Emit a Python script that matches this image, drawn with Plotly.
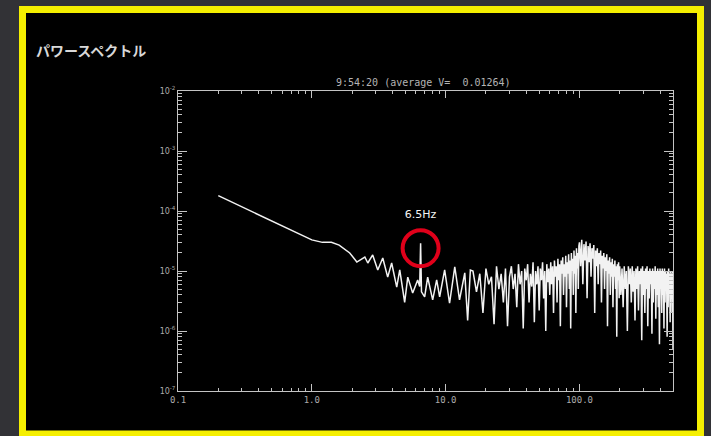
import plotly.graph_objects as go

# ---------------- data ----------------
freq_low = [0.2, 0.4, 0.6, 0.8, 1.0, 1.2, 1.4, 1.6]
pow_low = [1.8e-4, 8.6e-5, 5.7e-5, 4.2e-5, 3.3e-5, 3.0e-5, 3.0e-5, 2.7e-5]

freq_mid = [1.92, 2.17, 2.49, 2.62, 2.85, 3.11, 3.39, 3.69, 3.95, 4.31,
            4.54, 4.94, 5.21, 5.67, 6.18, 6.4, 6.5, 6.6, 6.97, 7.34,
            8.0, 8.57, 9.02, 9.83, 10.7, 11.7, 12.7, 13.9, 14.6, 15.3]
pow_mid_e6 = [20, 14.1, 17.1, 13.6, 18.5, 10.4, 16.5, 7.9, 13.6, 5.4,
              10.4, 3.0, 7.9, 4.3, 7.1, 5.5, 29, 4.5, 3.7, 7.9,
              3.3, 7.1, 3.7, 10.4, 2.9, 11.7, 3.3, 9.3, 1.5, 10.4]

freq_a = [16, 17, 18, 19, 20, 21, 22, 23, 24, 25, 26, 27, 28, 29, 30,
          31, 32, 33, 34, 35, 36, 37, 38, 39, 40, 41, 42, 43, 44, 45,
          46, 47, 48, 49, 50, 51, 52, 53, 54, 55, 56, 57, 58, 59, 60,
          61, 62, 63, 64, 65, 66, 67, 68, 69, 70, 71, 72, 73, 74, 75,
          76, 77, 78, 79, 80, 81, 82, 83, 84, 85, 86, 87, 88, 89, 90,
          91, 92, 93, 94, 95, 96, 97, 98, 99]
pow_a_e6 = [10, 4.5, 9, 2.0, 11, 6, 8, 1.3, 12, 5, 9, 3, 11, 1.2, 8,
            12, 5, 9, 2.5, 13, 6, 10, 1.1, 11, 7, 13, 3, 9, 5.5, 14,
            1.4, 10, 6, 12, 2.2, 11, 7, 14, 3.5, 10, 1.0, 13, 6.5, 11, 4,
            14, 6, 12, 2.0, 15, 8, 12, 3, 16, 7, 13, 1.2, 15, 9, 17,
            4, 13, 8, 18, 2.5, 14, 9, 19, 5, 15, 1.1, 20, 10, 16, 4,
            22, 9, 18, 2, 24, 11, 20, 5, 26]

freq_b = [100, 102, 104, 106, 108, 110, 112, 114, 116, 118,
          120, 122, 124, 126, 128, 130, 132, 134, 136, 138,
          140, 142, 144, 146, 148, 150, 152, 154, 156, 158,
          160, 162, 164, 166, 168, 170, 172, 174, 176, 178,
          180, 182, 184, 186, 188, 190, 192, 194, 196, 198]
pow_b_e6 = [30, 12, 33, 6, 28, 15, 31, 3.5, 26, 14,
            29, 8, 24, 16, 27, 2.0, 22, 12, 24, 6,
            20, 13, 22, 3, 18, 11, 20, 5, 17, 10,
            19, 1.2, 15, 9, 17, 4, 14, 8, 16, 2.5,
            13, 8, 15, 5, 12, 0.8, 13, 7, 14, 3.5]

freq_c = [200, 204, 208, 212, 216, 220, 224, 228, 232, 236,
          240, 244, 248, 252, 256, 260, 264, 268, 272, 276,
          280, 284, 288, 292, 296, 300, 304, 308, 312, 316,
          320, 324, 328, 332, 336, 340, 344, 348, 352, 356,
          360, 364, 368, 372, 376, 380, 384, 388, 392, 396,
          400, 404, 408, 412, 416, 420, 424, 428, 432, 436,
          440, 444, 448, 452, 456, 460, 464, 468, 472, 476,
          480, 484, 488, 492, 496, 500]
pow_c_e6 = [12, 4, 11, 2.5, 12, 5, 10, 1.0, 12, 6,
            11, 3, 12, 4.5, 10, 1.5, 11, 5, 12, 2.2,
            10, 6, 11, 0.7, 12, 4, 10, 2.0, 11, 5,
            12, 1.2, 10, 3.5, 11, 6, 10, 0.9, 11, 3,
            10, 5, 12, 1.6, 10, 4, 11, 2.5, 10, 0.6,
            11, 5, 10, 2.0, 11, 4, 10, 1.1, 11, 3,
            10, 5, 9, 0.8, 10, 2.5, 11, 4, 9, 1.4,
            10, 3.5, 9, 2, 10, 0.5]

peak_freq = 6.5
peak_label = "6.5Hz"
peak_circle_power = 2.4e-5
peak_label_power = 8.6e-5

x_tickvals = [0.1, 1, 10, 100]
x_ticktext = ["0.1", "1.0", "10.0", "100.0"]
y_exponents = [-7, -6, -5, -4, -3, -2]

page_title = "パワースペクトル"
plot_title = "9:54:20 (average V=  0.01264)"

# ---------------- assemble ----------------
freq = freq_low + freq_mid + freq_a + freq_b + freq_c
power = (pow_low + [v * 1e-6 for v in pow_mid_e6] + [v * 1e-6 for v in pow_a_e6]
         + [v * 1e-6 for v in pow_b_e6] + [v * 1e-6 for v in pow_c_e6])

y_tickvals = [10.0 ** e for e in y_exponents]
y_ticktext = ["10<sup>%d</sup>" % e for e in y_exponents]
x_minor = [m * 10.0 ** d for d in (-1, 0, 1, 2) for m in range(2, 10) if m * 10.0 ** d <= 500]
y_minor = [m * 10.0 ** d for d in (-7, -6, -5, -4, -3) for m in range(2, 10)]

axis_col = "#c4c4c4"
lab_col = "#aaaaaa"

fig = go.Figure()
fig.add_trace(go.Scatter(x=freq, y=power, mode="lines",
                         line=dict(color="#f2f2f2", width=1.5), hoverinfo="skip",
                         showlegend=False))
fig.add_trace(go.Scatter(x=[peak_freq], y=[peak_circle_power], mode="markers",
                         marker=dict(symbol="circle-open", size=36, color="#e0001a",
                                     line=dict(color="#e0001a", width=4)),
                         showlegend=False, hoverinfo="skip"))
fig.add_trace(go.Scatter(x=[peak_freq], y=[peak_label_power], mode="text",
                         text=[peak_label],
                         textfont=dict(color="#f4f4f4", size=11, family="DejaVu Sans"),
                         showlegend=False, hoverinfo="skip"))

L, R, T, B = 178, 38, 91, 45
W, H = 711, 436
pw, ph = W - L - R, H - T - B


def px(x):
    return (x - L) / pw


def py(y):
    return (H - B - y) / ph


fig.update_layout(
    width=W, height=H,
    margin=dict(l=L, r=R, t=T, b=B),
    paper_bgcolor="#323236",
    plot_bgcolor="#000000",
    showlegend=False,
    shapes=[dict(type="rect", xref="paper", yref="paper", layer="below",
                 x0=px(22.5), x1=px(700.5), y0=py(434), y1=py(9.5),
                 fillcolor="#000000", line=dict(color="#f5ef00", width=7))],
    annotations=[
        dict(text="<b>" + page_title + "</b>", xref="paper", yref="paper", x=px(34), y=py(50),
             xanchor="left", yanchor="middle", showarrow=False,
             font=dict(family="Noto Sans CJK JP", size=14, color="#d8d8d8")),
        dict(text=plot_title, xref="paper", yref="paper", x=px(423), y=py(82),
             xanchor="center", yanchor="middle", showarrow=False,
             font=dict(family="DejaVu Sans Mono", size=10, color="#b4b4b4")),
    ],
    xaxis=dict(type="log", range=[-1, 2.69897], showgrid=False, zeroline=False,
               showline=True, linecolor=axis_col, linewidth=1, mirror="ticks",
               ticks="inside", ticklen=7, tickcolor=axis_col,
               tickmode="array", tickvals=x_tickvals, ticktext=x_ticktext,
               tickfont=dict(family="DejaVu Sans Mono", size=9, color=lab_col),
               minor=dict(ticks="inside", ticklen=3, tickcolor=axis_col,
                          tickmode="array", tickvals=x_minor, showgrid=False)),
    yaxis=dict(type="log", range=[-7, -2], showgrid=False, zeroline=False,
               showline=True, linecolor=axis_col, linewidth=1, mirror="ticks",
               ticks="inside", ticklen=9, tickcolor=axis_col,
               tickmode="array", tickvals=y_tickvals, ticktext=y_ticktext,
               tickfont=dict(family="DejaVu Sans", size=8, color=lab_col),
               minor=dict(ticks="inside", ticklen=4, tickcolor=axis_col,
                          tickmode="array", tickvals=y_minor, showgrid=False)),
)

fig.write_html("out.html")
